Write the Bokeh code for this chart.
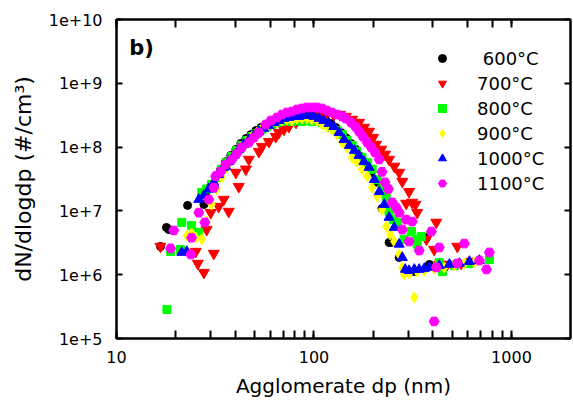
from bokeh.plotting import figure
from bokeh.models import LogAxis, Legend, LegendItem, PrintfTickFormatter, CustomJSTickFormatter, Label
from bokeh.embed import file_html
from bokeh.resources import INLINE

# ---- data ----
series_labels = [" 600°C", "700°C", "800°C", "900°C", "1000°C", "1100°C"]
series_colors = ["#000000", "#FF0000", "#00FF00", "#FFFF00", "#0000FF", "#FF00FF"]
series_markers = ["circle", "inverted_triangle", "square", "diamond", "triangle", "hex"]
series_sizes = [8, 11, 8, 11, 10, 10]

dp_600 = [16.7, 17.9, 18.4, 22.9, 27.7, 28.3, 30.0, 31.8, 33.7, 35.7, 37.9, 40.2, 42.6, 45.2, 47.9,
          50.8, 53.8, 57.0, 60.5, 64.1, 68.0, 72.1, 76.4, 81.1, 85.9, 91.0, 96.6, 102.3, 108.6, 115,
          122, 129, 137, 145, 154, 163, 173, 184, 195, 206, 221, 240, 246, 270, 293,
          322, 371, 384, 431, 526, 612]
n_600 = [2.77e6, 5.5e6, 5.1e6, 1.22e7, 1.26e7, 1.94e7, 2.5e7, 3.34e7, 4.5e7, 5.9e7, 7.4e7, 9.2e7, 1.14e8, 1.36e8, 1.57e8,
         1.82e8, 2.03e8, 2.26e8, 2.52e8, 2.71e8, 2.81e8, 3.02e8, 3.13e8, 3.13e8, 3.24e8, 3.24e8, 3.13e8, 3.02e8, 2.81e8, 2.61e8,
         2.34e8, 2.03e8, 1.69e8, 1.41e8, 1.14e8, 9.2e7, 7.1e7, 5.3e7, 4.0e7, 2.8e7, 1.09e7, 3.2e6, 3.2e6, 1.86e6, 1.12e6,
         1.12e6, 3.8e6, 1.45e6, 1.39e6, 1.50e6, 1.55e6]

dp_700 = [16.7, 25.2, 25.8, 27.7, 28.6, 30.0, 31.1, 32.9, 34.9, 37.0, 40.2, 41.6, 45.2, 46.8, 52.6,
          54.5, 59.1, 64.1, 66.4, 70.4, 74.6, 81.1, 88.9, 96.6, 106, 115, 126, 135.5, 145, 156,
          169, 179, 190, 199, 206, 219, 229, 240, 255, 270, 280, 303, 293, 314, 326,
          333, 416, 371, 406, 532, 431, 473, 557, 627]
n_700 = [2.77e6, 2.31e6, 1.50e6, 1.08e6, 5.1e6, 9.4e6, 2.15e6, 1.17e7, 1.51e7, 9.8e6, 4.0e7, 2.4e7, 4.5e7, 6.4e7, 8.5e7,
         1.02e8, 1.22e8, 1.46e8, 1.69e8, 1.89e8, 2.10e8, 2.43e8, 2.71e8, 2.91e8, 3.13e8, 3.24e8, 3.24e8, 3.24e8, 3.02e8, 2.71e8,
         2.43e8, 2.03e8, 1.76e8, 1.41e8, 1.10e8, 9.2e7, 7.7e7, 6.4e7, 5.0e7, 4.0e7, 2.89e7, 2.0e7, 1.31e7, 1.36e7, 1.26e7,
         9.4e6, 6.6e6, 3.6e6, 2.48e6, 2.77e6, 1.45e6, 1.45e6, 1.50e6, 1.61e6]

dp_800 = [18.0, 18.8, 21.1, 21.4, 24.0, 26.1, 27.0, 28.6, 30.3, 32.2, 34.1, 36.2, 38.4, 40.6, 43.1,
          45.7, 48.5, 51.4, 54.5, 57.7, 61.2, 64.9, 68.8, 72.9, 77.3, 82.0, 86.9, 92.1, 97.7, 103.5,
          110, 116, 123, 131, 139, 147, 156, 165, 175, 186, 197, 209, 221, 232, 240,
          252, 264, 286, 311, 330, 349, 333, 431, 447, 514, 612, 773]
n_800 = [2.85e5, 2.31e6, 2.48e6, 6.6e6, 5.9e6, 4.6e6, 1.94e7, 2.2e7, 2.6e7, 3.34e7, 4.5e7, 5.7e7, 7.1e7, 8.85e7, 1.06e8,
         1.27e8, 1.46e8, 1.63e8, 1.89e8, 2.10e8, 2.26e8, 2.43e8, 2.52e8, 2.61e8, 2.52e8, 2.61e8, 2.52e8, 2.61e8, 2.52e8, 2.52e8,
         2.43e8, 2.26e8, 2.03e8, 1.82e8, 1.57e8, 1.27e8, 1.06e8, 8.5e7, 6.9e7, 5.7e7, 4.5e7, 3.1e7, 2.2e7, 1.68e7, 9.8e6,
         7.3e6, 6.6e6, 3.6e6, 4.75e6, 3.6e6, 3.97e6, 3.0e6, 1.55e6, 1.12e6, 1.39e6, 1.50e6, 1.73e6]

dp_900 = [22.7, 24.0, 25.2, 27.0, 28.6, 30.3, 32.2, 34.1, 36.2, 38.4, 40.6, 43.1, 45.7, 48.5, 51.4,
          54.5, 57.7, 61.2, 64.9, 68.8, 72.9, 77.3, 82.0, 86.9, 92.1, 97.7, 103.5, 110, 116, 123,
          131, 139, 147, 156, 165, 175, 186, 197, 209, 221, 232, 243, 255, 270, 280,
          286, 303, 322, 333, 362, 406, 457, 514, 577, 649]
n_900 = [4.1e6, 4.43e6, 3.8e6, 3.6e6, 6.8e6, 1.26e7, 2.2e7, 3.34e7, 4.8e7, 6.4e7, 8.2e7, 1.02e8, 1.22e8, 1.46e8, 1.69e8,
         1.89e8, 2.10e8, 2.34e8, 2.52e8, 2.61e8, 2.71e8, 2.61e8, 2.81e8, 2.81e8, 2.81e8, 2.71e8, 2.61e8, 2.26e8, 2.10e8, 1.89e8,
         1.57e8, 1.18e8, 9.9e7, 6.9e7, 5.9e7, 4.5e7, 3.5e7, 2.33e7, 1.68e7, 1.05e7, 5.7e6, 4.27e6, 3.31e6, 2.07e6, 1.30e6,
         1.01e6, 1.04e6, 4.4e5, 1.12e6, 1.16e6, 1.25e6, 1.30e6, 1.39e6, 1.50e6, 1.55e6]

dp_1000 = [21.4, 22.7, 26.1, 27.7, 29.3, 30.3, 31.1, 32.9, 34.9, 35.7, 37.0, 39.3, 41.6, 44.1, 46.8,
           49.6, 52.6, 55.7, 59.1, 62.7, 66.4, 70.4, 74.6, 79.1, 83.9, 88.9, 94.3, 100, 106, 112,
           119, 126, 134, 142, 151, 160, 169, 179, 190, 202, 214, 227, 240, 255, 270,
           280, 290, 303, 322, 341, 362, 384, 431, 485, 545, 612, 688]
n_1000 = [2.23e6, 2.31e6, 1.51e7, 1.74e7, 2.2e7, 2.2e7, 2.8e7, 3.7e7, 4.8e7, 5.0e7, 5.9e7, 7.4e7, 9.2e7, 1.10e8, 1.31e8,
          1.52e8, 1.76e8, 1.96e8, 2.18e8, 2.43e8, 2.61e8, 2.81e8, 2.91e8, 3.02e8, 3.02e8, 3.13e8, 3.13e8, 3.02e8, 2.81e8, 2.61e8,
          2.34e8, 2.10e8, 1.69e8, 1.31e8, 1.06e8, 8.85e7, 7.4e7, 5.9e7, 4.8e7, 3.1e7, 2.0e7, 1.26e7, 7.9e6, 5.5e6, 3.0e6,
          1.86e6, 1.21e6, 1.16e6, 1.21e6, 1.21e6, 1.25e6, 1.30e6, 1.39e6, 1.45e6, 1.50e6, 1.61e6, 1.67e6]

dp_1100 = [18.8, 19.5, 23.8, 24.0, 26.1, 28.0, 29.3, 31.1, 31.8, 33.7, 35.7, 38.4, 40.6, 43.1, 46.8,
           49.6, 52.6, 57.0, 60.5, 64.9, 68.8, 72.9, 77.3, 82.0, 86.9, 92.1, 97.7, 103.5, 110, 116,
           123, 131, 139, 145, 154, 162, 169, 177, 186, 195, 204, 214, 221, 229, 238,
           249, 261, 270, 280, 293, 303, 314, 341, 393, 406, 416, 431, 532, 577, 688,
           747, 773]
n_1100 = [2.58e6, 4.93e6, 2.07e6, 3.8e6, 9.4e6, 6.6e6, 1.51e7, 2.33e7, 3.5e7, 4.1e7, 5.3e7, 6.4e7, 7.9e7, 9.9e7, 1.18e8,
          1.41e8, 1.69e8, 2.26e8, 2.61e8, 2.91e8, 3.24e8, 3.49e8, 3.61e8, 3.88e8, 4.03e8, 4.18e8, 4.18e8, 4.18e8, 4.03e8, 3.75e8,
          3.49e8, 3.24e8, 3.02e8, 2.81e8, 2.43e8, 2.10e8, 1.76e8, 1.46e8, 1.18e8, 9.9e7, 8.2e7, 6.4e7, 4.1e7, 2.8e7, 2.2e7,
          1.36e7, 1.13e7, 9.4e6, 5.1e6, 7.3e6, 3.31e6, 6.8e6, 2.39e6, 4.75e6, 1.85e5, 1.30e6, 2.67e6, 1.50e6, 3.08e6, 1.67e6,
          1.21e6, 2.23e6]

series_dp = [dp_600, dp_700, dp_800, dp_900, dp_1000, dp_1100]
series_n = [n_600, n_700, n_800, n_900, n_1000, n_1100]

FONT = "DejaVu Sans"

p = figure(x_axis_type="log", y_axis_type="log",
           x_range=(10, 1990), y_range=(1e5, 1e10),
           frame_width=454, frame_height=319,
           min_border_left=116, min_border_right=1, min_border_top=19, min_border_bottom=40,
           output_backend="svg", toolbar_location=None)
p.xgrid.visible = False
p.ygrid.visible = False
p.outline_line_color = "black"
p.outline_line_width = 2
p.background_fill_color = "white"
p.border_fill_color = "white"

xa = p.xaxis[0]
xa.axis_label = "Agglomerate dp (nm)"
xa.formatter = PrintfTickFormatter(format="%d")
ya = p.yaxis[0]
ya.axis_label = "dN/dlogdp (#/cm³)"
ya.formatter = PrintfTickFormatter(format="%.0e")

blank = CustomJSTickFormatter(code="return ''")
top_axis = LogAxis(formatter=blank, major_label_standoff=0, major_label_text_font_size="8px")
right_axis = LogAxis(formatter=blank, major_label_standoff=0, major_label_text_font_size="8px")
p.add_layout(top_axis, "above")
p.add_layout(right_axis, "right")

for ax in (xa, top_axis):
    ax.major_tick_in = 4
    ax.major_tick_out = 0
    ax.minor_tick_in = 8
    ax.minor_tick_out = 0
    ax.major_tick_line_width = 2
    ax.minor_tick_line_width = 2
for ax in (ya, right_axis):
    ax.major_tick_in = 6
    ax.major_tick_out = 0
    ax.minor_tick_line_color = None
    ax.major_tick_line_width = 2
for ax in (xa, ya, top_axis, right_axis):
    ax.axis_line_width = 2
    ax.axis_line_color = "black"
    ax.major_tick_line_color = "black"
    ax.major_label_text_font = FONT
    ax.axis_label_text_font = FONT
    ax.axis_label_text_font_style = "normal"
    ax.axis_label_text_color = "black"

xa.major_label_text_color = "black"
ya.major_label_text_color = "black"
xa.major_label_text_font_size = "16px"
xa.major_label_standoff = 12
xa.axis_label_text_font_size = "20px"
xa.axis_label_standoff = 8
ya.major_label_text_font_size = "16px"
ya.major_label_standoff = 10
ya.axis_label_text_font_size = "22px"
ya.axis_label_standoff = 10

items = []
for lab, col, mk, sz, xs, ys in zip(series_labels, series_colors, series_markers, series_sizes, series_dp, series_n):
    r = p.scatter(x=xs, y=ys, marker=mk, size=sz, fill_color=col, line_color=col)
    items.append(LegendItem(label=lab, renderers=[r]))

legend = Legend(items=items, location=(316, 144), orientation="vertical",
                border_line_color=None, background_fill_alpha=0,
                padding=0, margin=0, spacing=3,
                glyph_width=20, glyph_height=22, label_height=22, label_standoff=25,
                label_text_font=FONT, label_text_font_size="18px", label_text_color="black")
p.add_layout(legend, "center")

p.add_layout(Label(x=11.6, y=3.6e9, text="b)", text_font=FONT, text_font_size="21px",
                   text_font_style="bold", text_baseline="middle", text_color="black"))

open("out.html", "w").write(file_html(p, INLINE))
